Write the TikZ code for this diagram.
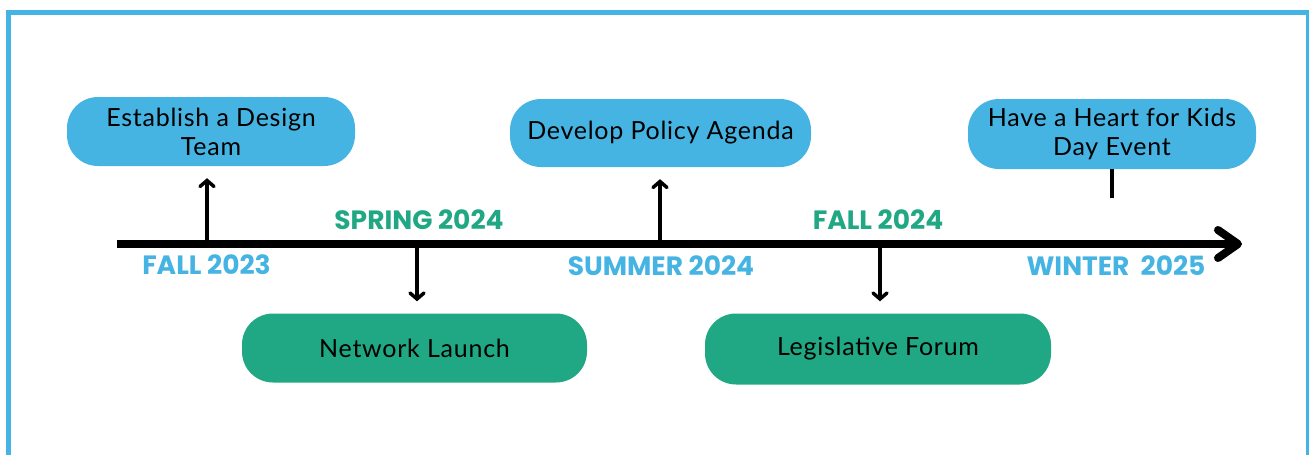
\documentclass[tikz,border=0pt]{standalone}
\usepackage{fontspec}
\setmainfont{Lato}[LetterSpace=3]
\newfontfamily\labfont{Poppins}
\usetikzlibrary{arrows.meta}
\definecolor{tlblue}{HTML}{45B4E3}
\definecolor{tlgreen}{HTML}{20A783}
\begin{document}
\begin{tikzpicture}[x=1pt,y=-1pt,
  box/.style={rounded corners=31pt, inner sep=0pt, align=center, text=black,
    font=\fontsize{25}{30}\selectfont},
  bluebox/.style={box, fill=tlblue},
  greenbox/.style={box, fill=tlgreen},
  lab/.style={anchor=base, inner sep=0pt, font=\labfont\bfseries\fontsize{26.5}{30}\selectfont},
  tick/.style={line width=3.5pt, -{Straight Barb[length=6pt,width=14pt,line cap=round]}, shorten >=12pt},
  frame/.style={draw=tlblue, line width=4.5pt}
]
\useasboundingbox (0,0) rectangle (1309,455);
% frame
\draw[frame] (8.5,12.5) rectangle (1308,480);
% boxes
\node[bluebox, minimum width=288pt, minimum height=69pt] (est) at (211,131.5) {Establish a Design\\[-1pt]Team};
\node[bluebox, minimum width=301pt, minimum height=68pt] (dev) at (660.5,133) {Develop Policy Agenda};
\node[bluebox, minimum width=288pt, minimum height=70pt] (kid) at (1112,134) {Have a Heart for Kids\\[-1pt]Day Event};
\node[greenbox, minimum width=345pt, minimum height=69pt] (net) at (414.5,348) {Network Launch};
\node[greenbox, minimum width=346pt, minimum height=71pt] (leg) at (878,349) {Legislative Forum};
% timeline
\coordinate (tstart) at (117,244);
\coordinate (tend) at (1236,244);
\coordinate (tw1) at (1218,230);
\coordinate (tw2) at (1218,258);
\draw[line width=8pt] (tstart) -- (tend);
\draw[line width=8pt, line cap=round, line join=round] (tw1) -- (1238,244) -- (tw2);
% tick points
\coordinate (t1) at (207,241);
\coordinate (t2) at (417,247);
\coordinate (t3) at (660,241);
\coordinate (t4) at (880,247);
\coordinate (t5) at (1112,198);
\draw[tick] (t1) -- (t1 |- est.south);
\draw[tick] (t2) -- (t2 |- net.north);
\draw[tick] (t3) -- (t3 |- dev.south);
\draw[tick] (t4) -- (t4 |- leg.north);
\draw[line width=3.5pt] (t5) -- (kid.south);
% labels
\node[lab, text=tlblue] (l1) at (206.5,274.5) {FALL 2023};
\node[lab, text=tlgreen] (l2) at (419,229) {SPRING 2024};
\node[lab, text=tlblue] (l3) at (661,275) {SUMMER 2024};
\node[lab, text=tlgreen] (l4) at (878,229) {FALL 2024};
\node[lab, text=tlblue] (l5) at (1116,275) {WINTER\ \ 2025};
\end{tikzpicture}
\end{document}
